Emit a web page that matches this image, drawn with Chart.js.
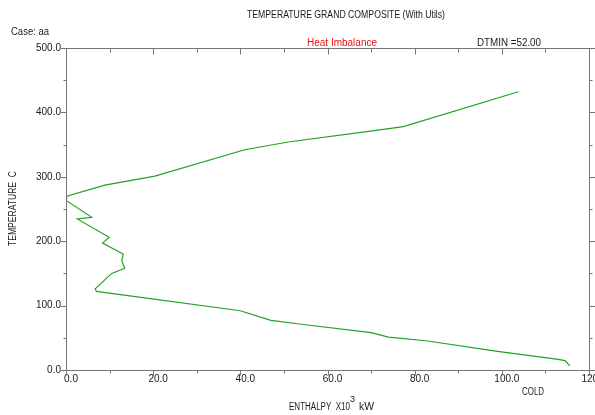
<!DOCTYPE html>
<html>
<head>
<meta charset="utf-8">
<script src="https://cdn.jsdelivr.net/npm/chart.js@4.4.1/dist/chart.umd.min.js"></script>
<style>
  html, body { margin: 0; padding: 0; background: #ffffff; }
  #wrap { width: 595px; height: 415px; position: relative; }
</style>
</head>
<body>
<div id="wrap"><canvas id="c" width="595" height="415"></canvas></div>
<script>
// Grand composite curve: enthalpy (x10^3 kW) vs shifted temperature (C)
const enthalpy = [103.8, 77.4, 72.0, 51.0, 41.0, 20.4, 8.9, 0.2, 0.1, 5.9, 2.6, 9.9, 8.4, 13.1, 12.8, 13.5, 10.5, 6.7, 7.0, 40.0, 47.0, 54.0, 70.0, 74.0, 83.0, 99.0, 112.6, 114.5, 115.6];
const temperature = [432, 378, 373, 354, 342, 301, 287, 270, 263, 237, 234.5, 206, 197, 180, 169, 158, 150, 126, 122, 92, 77, 71, 58, 51, 45, 29, 17, 14.5, 6.5];

const xTickValues = [0, 20, 40, 60, 80, 100, 120];
const yTickValues = [0, 100, 200, 300, 400, 500];

const titleText = 'TEMPERATURE GRAND COMPOSITE (With Utils)';
const caseText = 'Case: aa';
const imbalanceText = 'Heat Imbalance';
const dtminText = 'DTMIN =52.00';
const coldText = 'COLD';
const xTitleMain = 'ENTHALPY  X10';
const xTitleSup = '3';
const xTitleUnit = 'kW';
const yTitleText = 'TEMPERATURE  C';

const points = enthalpy.map((h, i) => ({ x: h, y: temperature[i] }));

const FONT = '"Liberation Sans", Arial, sans-serif';

function fitText(ctx, str, x0, x1, y, color, size) {
  ctx.save();
  ctx.font = size + 'px ' + FONT;
  ctx.fillStyle = color;
  ctx.textBaseline = 'middle';
  ctx.textAlign = 'left';
  const w = ctx.measureText(str).width;
  const s = (x1 - x0) / w;
  ctx.translate(x0, y);
  ctx.scale(s, 1);
  ctx.fillText(str, 0, 0);
  ctx.restore();
}

const decor = {
  id: 'decor',
  beforeDraw(chart) {
    const ctx = chart.ctx;
    ctx.save();
    ctx.fillStyle = '#ffffff';
    ctx.fillRect(0, 0, chart.width, chart.height);
    ctx.restore();
  },
  afterDraw(chart) {
    const { ctx, chartArea: a, scales: { x, y } } = chart;
    ctx.save();
    ctx.strokeStyle = '#767676';
    ctx.lineWidth = 1;
    const L = Math.round(a.left) + 0.5, R = Math.round(a.right) + 0.5;
    const T = Math.round(a.top) + 0.5, B = Math.round(a.bottom) + 0.5;
    ctx.beginPath();
    ctx.moveTo(L, T); ctx.lineTo(R, T); ctx.lineTo(R, B); ctx.lineTo(L, B); ctx.closePath();
    // y ticks: left outward, right outward
    for (let v = 0; v <= 500; v += 50) {
      const py = Math.round(y.getPixelForValue(v)) + 0.5;
      const len = (v % 100 === 0) ? 6 : 3;
      ctx.moveTo(L - len, py); ctx.lineTo(L, py);
      ctx.moveTo(R, py); ctx.lineTo(R + len, py);
    }
    // x ticks: bottom outward, top inward
    for (let v = 0; v <= 120; v += 10) {
      const px = Math.round(x.getPixelForValue(v)) + 0.5;
      const len = (v % 20 === 0) ? 5 : 3;
      ctx.moveTo(px, B); ctx.lineTo(px, B + len);
      ctx.moveTo(px, T); ctx.lineTo(px, T + len + 1);
    }
    ctx.stroke();
    ctx.restore();

    // texts
    fitText(ctx, titleText, 247, 445, 15, '#1a1a1a', 10);
    fitText(ctx, caseText, 11, 49, 32, '#1a1a1a', 10);
    fitText(ctx, imbalanceText, 307, 377, 43, '#ee1111', 10);
    fitText(ctx, dtminText, 477, 541, 43, '#1a1a1a', 10);
    fitText(ctx, coldText, 522, 544, 392, '#1a1a1a', 10);
    fitText(ctx, xTitleMain, 289, 350, 407, '#1a1a1a', 10);
    fitText(ctx, xTitleSup, 350, 355, 400, '#1a1a1a', 9);
    fitText(ctx, xTitleUnit, 359, 374, 407, '#1a1a1a', 10);

    // vertical y title
    ctx.save();
    ctx.translate(13, 246);
    ctx.rotate(-Math.PI / 2);
    fitText(ctx, yTitleText, 0, 75, 0, '#1a1a1a', 10);
    ctx.restore();
  }
};

new Chart(document.getElementById('c'), {
  type: 'scatter',
  data: {
    datasets: [{
      data: points,
      showLine: true,
      borderColor: '#22a022',
      backgroundColor: '#22a022',
      borderWidth: 1.2,
      pointRadius: 0,
      tension: 0,
      fill: false
    }]
  },
  options: {
    responsive: false,
    animation: false,
    layout: { padding: { top: 48, right: 6, left: 0, bottom: 0 } },
    plugins: { legend: { display: false }, tooltip: { enabled: false }, title: { display: false } },
    scales: {
      x: {
        type: 'linear',
        min: 0, max: 120,
        afterBuildTicks: (s) => { s.ticks = xTickValues.map(v => ({ value: v })); },
        afterFit: (s) => { s.height = 45; s.paddingLeft = 0; s.paddingRight = 0; },
        grid: { display: false, drawTicks: false, tickLength: 0 },
        border: { display: false },
        ticks: {
          autoSkip: false,
          maxRotation: 0,
          padding: 3,
          labelOffset: 5,
          color: '#1a1a1a',
          font: { family: FONT, size: 10 },
          callback: (v) => Number(v).toFixed(1)
        }
      },
      y: {
        type: 'linear',
        min: 0, max: 500,
        afterBuildTicks: (s) => { s.ticks = yTickValues.map(v => ({ value: v })); },
        afterFit: (s) => { s.width = 66; s.paddingTop = 0; s.paddingBottom = 0; },
        grid: { display: false, drawTicks: false, tickLength: 0 },
        border: { display: false },
        ticks: {
          autoSkip: false,
          padding: 5,
          color: '#1a1a1a',
          font: { family: FONT, size: 10 },
          callback: (v) => Number(v).toFixed(1)
        }
      }
    }
  },
  plugins: [decor]
});
</script>
</body>
</html>
